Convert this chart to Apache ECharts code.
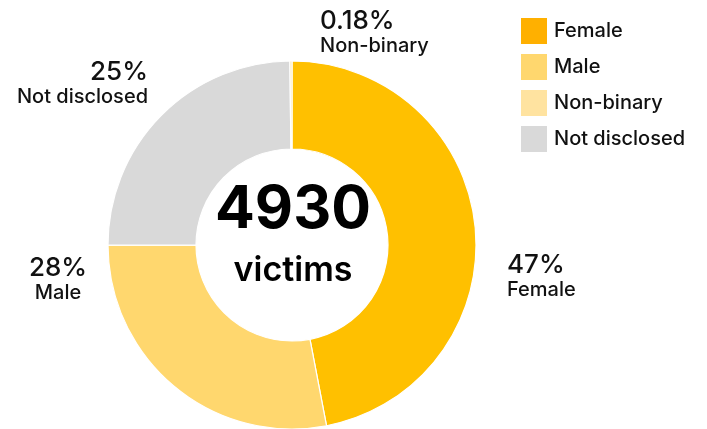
<!DOCTYPE html>
<html>
<head>
<meta charset="utf-8">
<script src="https://cdn.jsdelivr.net/npm/echarts@6/dist/echarts.min.js"></script>
<style>
  html, body { margin: 0; padding: 0; background: #fff; }
  #main { width: 707px; height: 429px; }
</style>
</head>
<body>
<div id="main"></div>
<script>
// data, in drawing order (clockwise from 12 o'clock)
const categories = ['Female', 'Male', 'Not disclosed', 'Non-binary'];
const victims = [2317, 1380, 1224, 9];
const percentLabels = ['47%', '28%', '25%', '0.18%'];
const legendOrder = ['Female', 'Male', 'Non-binary', 'Not disclosed'];
const total = 4930;

const sliceColors = { 'Female': '#FFC000', 'Male': '#FFD76E', 'Not disclosed': '#D9D9D9', 'Non-binary': '#FFE3A0' };
const legendColors = { 'Female': '#FFB000', 'Male': '#FFD76E', 'Non-binary': '#FFE3A0', 'Not disclosed': '#D9D9D9' };

// where each outside label sits
const labelPos = {
  'Female': { x: 507, y: 276, align: 'left' },
  'Male': { x: 58, y: 279, align: 'center' },
  'Not disclosed': { x: 148, y: 83, align: 'right' },
  'Non-binary': { x: 320, y: 32, align: 'left' }
};

const chartDom = document.getElementById('main');
const myChart = echarts.init(chartDom);

let option = {
  animation: false,
  textStyle: { fontFamily: 'Inter' },
  legend: {
    orient: 'vertical',
    left: 519,
    top: 16,
    padding: 0,
    itemWidth: 28,
    itemHeight: 28,
    itemGap: 6,
    icon: 'rect',
    textStyle: { fontSize: 20, fontWeight: 500, color: '#111', fontFamily: 'Inter', padding: [0, 0, 0, 1] },
    data: legendOrder.map(n => ({ name: n, itemStyle: { color: legendColors[n] } }))
  },
  graphic: [
    {
      type: 'text',
      style: { text: String(total), x: 293, y: 210, fill: '#000', font: 'bold 59px Inter', textAlign: 'center', textVerticalAlign: 'middle' }
    },
    {
      type: 'text',
      style: { text: 'victims', x: 293, y: 271, fill: '#000', font: '600 34px Inter', textAlign: 'center', textVerticalAlign: 'middle' }
    }
  ],
  series: [
    {
      type: 'pie',
      center: [292, 245],
      radius: [96, 184],
      startAngle: 90,
      clockwise: true,
      avoidLabelOverlap: false,
      itemStyle: { borderColor: '#fff', borderWidth: 1.2 },
      label: {
        show: true,
        position: 'outside',
        formatter: function (p) {
          return '{p|' + percentLabels[p.dataIndex] + '}\n{n|' + p.name + '}';
        },
        rich: {
          p: { fontSize: 26, fontWeight: 500, color: '#111', fontFamily: 'Inter', lineHeight: 27 },
          n: { fontSize: 20, fontWeight: 500, color: '#111', fontFamily: 'Inter', lineHeight: 21 }
        }
      },
      labelLine: { show: false },
      labelLayout: function (params) {
        const pos = labelPos[categories[params.dataIndex]];
        return { x: pos.x, y: pos.y, align: pos.align, verticalAlign: 'middle' };
      },
      emphasis: { disabled: true },
      data: categories.map((n, i) => ({ name: n, value: victims[i], itemStyle: { color: sliceColors[n] } }))
    }
  ]
};
myChart.setOption(option);
</script>
</body>
</html>
